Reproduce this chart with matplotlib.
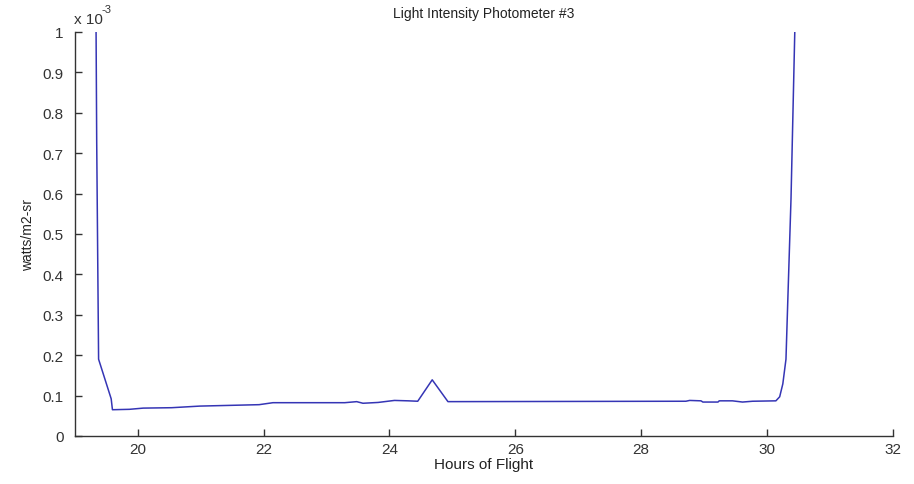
import numpy as np
import matplotlib
matplotlib.use("Agg")
import matplotlib.pyplot as plt

# hours of flight vs. light intensity (watts/m2-sr)
hours = [19.34, 19.35, 19.37, 19.38, 19.58, 19.60, 19.87, 20.09, 20.54, 20.99,
         21.93, 22.15, 23.29, 23.48, 23.58, 23.82, 24.08, 24.30, 24.45, 24.68,
         24.93, 28.71, 28.77, 28.95, 28.98, 29.22, 29.24, 29.45, 29.61, 29.77,
         30.14, 30.20, 30.25, 30.30, 30.33, 30.38, 30.44]
intensity = [1.0e-3, 0.728e-3, 0.369e-3, 0.19e-3, 0.092e-3, 0.065e-3, 0.066e-3,
             0.069e-3, 0.070e-3, 0.074e-3, 0.0775e-3, 0.0824e-3, 0.0824e-3,
             0.085e-3, 0.081e-3, 0.083e-3, 0.088e-3, 0.087e-3, 0.086e-3,
             0.139e-3, 0.085e-3, 0.086e-3, 0.088e-3, 0.087e-3, 0.084e-3,
             0.084e-3, 0.087e-3, 0.087e-3, 0.084e-3, 0.086e-3, 0.087e-3,
             0.097e-3, 0.129e-3, 0.19e-3, 0.34e-3, 0.587e-3, 1.0e-3]

yticks = np.arange(0, 1.01, 0.1) * 1e-3
ytick_labels = ['0', '0.1', '0.2', '0.3', '0.4', '0.5', '0.6', '0.7', '0.8', '0.9', '1']
xticks = [20, 22, 24, 26, 28, 30, 32]

plt.rcParams['font.family'] = ['Liberation Sans', 'DejaVu Sans']
plt.rcParams['font.size'] = 11

fig = plt.figure(figsize=(9.14, 4.85), dpi=100)
ax = fig.add_axes([0.0817, 0.099, 0.8953, 0.833])

ax.plot(hours, intensity, color='#3535b5', lw=1.1)

ax.set_xlim(19, 32)
ax.set_ylim(0, 1e-3)
ax.set_xticks(xticks)
ax.set_xticklabels([str(t) for t in xticks])
ax.set_yticks(yticks)
ax.set_yticklabels(ytick_labels)

for s in ['top', 'right']:
    ax.spines[s].set_visible(False)
for s in ['left', 'bottom']:
    ax.spines[s].set_color('#333333')
    ax.spines[s].set_linewidth(1.0)
ax.tick_params(direction='in', length=5, width=1, color='#333333', labelcolor='#333333')
ax.tick_params(axis='y', pad=8)
ax.tick_params(axis='x', pad=4)

ax.text(-0.001, 1.015, 'x 10', transform=ax.transAxes, fontsize=11, color='#333333',
        ha='left', va='bottom')
ax.text(0.033, 1.045, '-3', transform=ax.transAxes, fontsize=8, color='#333333',
        ha='left', va='bottom')
ax.set_title('Light Intensity Photometer #3', fontsize=10, pad=11, color='#222222')
ax.set_xlabel('Hours of Flight', labelpad=1, color='#222222')
ax.set_ylabel('watts/m2-sr', labelpad=5, fontsize=10, color='#222222')

fig.savefig('out.png', dpi=100)
